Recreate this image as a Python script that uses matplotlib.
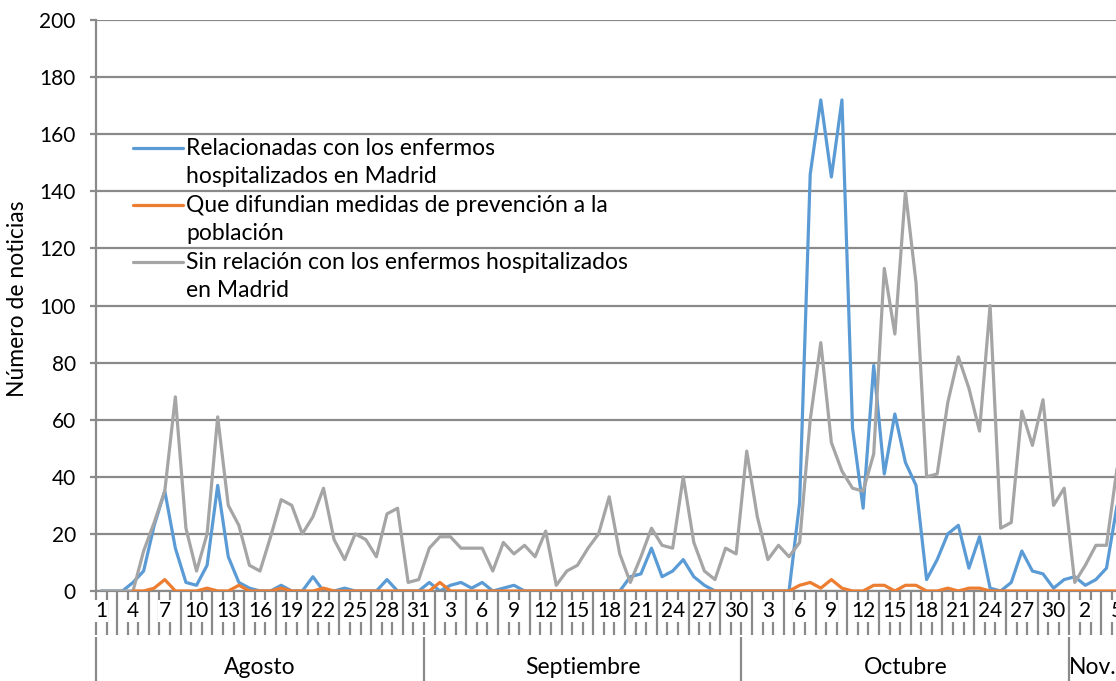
import matplotlib
matplotlib.use("Agg")
import matplotlib.pyplot as plt
from matplotlib.lines import Line2D
import numpy as np

plt.rcParams["font.family"] = ["Lato", "DejaVu Sans"]

# months shown on the category axis (Nov. is cut at the right edge)
MONTHS = ["Agosto", "Septiembre", "Octubre", "Nov."]
MONTH_DAYS = [31, 30, 31, 5]

# daily number of news items, 1 Aug -> 5 Nov
relacionadas = [
    0, 0, 0, 3, 7, 23, 35, 15, 3, 2,
    9, 37, 12, 3, 1, 0, 0, 2, 0, 0,
    5, 0, 0, 1, 0, 0, 0, 4, 0, 0,
    0, 3, 0, 2, 3, 1, 3, 0, 1, 2,
    0, 0, 0, 0, 0, 0, 0, 0, 0, 0,
    5, 6, 15, 5, 7, 11, 5, 2, 0, 0,
    0, 0, 0, 0, 0, 0, 31, 146, 172, 145,
    172, 57, 29, 79, 41, 62, 45, 37, 4, 11,
    20, 23, 8, 19, 1, 0, 3, 14, 7, 6,
    1, 4, 5, 2, 4, 8, 30,
]
prevencion = [
    None, None, None, 0, 0, 1, 4, 0, 0, 0,
    1, 0, 0, 2, 0, 0, 0, 1, 0, 0,
    0, 1, 0, 0, 0, 0, 0, 0, 0, 0,
    0, 0, 3, 0, 0, 0, 0, 0, 0, 0,
    0, 0, 0, 0, 0, 0, 0, 0, 0, 0,
    0, 0, 0, 0, 0, 0, 0, 0, 0, 0,
    0, 0, 0, 0, 0, 0, 2, 3, 1, 4,
    1, 0, 0, 2, 2, 0, 2, 2, 0, 0,
    1, 0, 1, 1, 0, 0, 0, 0, 0, 0,
    0, 0, 0, 0, 0, 0, 0,
]
sin_relacion = [
    0, 0, 0, 0, 14, 24, 35, 68, 22, 7,
    20, 61, 30, 23, 9, 7, 19, 32, 30, 20,
    26, 36, 18, 11, 20, 18, 12, 27, 29, 3,
    4, 15, 19, 19, 15, 15, 15, 7, 17, 13,
    16, 12, 21, 2, 7, 9, 15, 20, 33, 13,
    3, 12, 22, 16, 15, 40, 17, 7, 4, 15,
    13, 49, 26, 11, 16, 12, 17, 60, 87, 52,
    42, 36, 35, 48, 113, 90, 140, 108, 40, 41,
    66, 82, 71, 56, 100, 22, 24, 63, 51, 67,
    30, 36, 3, 9, 16, 16, 43,
]

labels = [
    ["Relacionadas con los enfermos", "hospitalizados en Madrid"],
    ["Que difundian medidas de prevención a la", "población"],
    ["Sin relación con los enfermos hospitalizados", "en Madrid"],
]
colors = ["#5B9BD5", "#ED7D31", "#A5A5A5"]
GRID = "#8a8a8a"
FS = 15      # numbers
FS_TXT = 16.5  # words

days = [d for n in MONTH_DAYS for d in range(1, n + 1)]
x = np.arange(len(days))

fig = plt.figure(figsize=(11.16, 6.81), dpi=100)
ax = fig.add_axes([96 / 1116, 90 / 681, 1020 / 1116, 571 / 681])

series = [relacionadas, prevencion, sin_relacion]
for vals, c, z in zip(series, colors, [2, 4, 3]):
    y = np.array([np.nan if v is None else v for v in vals], dtype=float)
    ax.plot(x, y, color=c, lw=2.3, solid_joinstyle="round",
            solid_capstyle="round", zorder=z)

ax.set_yticks(range(0, 201, 20))
ax.yaxis.grid(True, color=GRID, lw=1.6)
ax.set_axisbelow(True)
for s in ["top", "right"]:
    ax.spines[s].set_visible(False)
for s in ["left", "bottom"]:
    ax.spines[s].set_color(GRID)
    ax.spines[s].set_linewidth(1.6)
ax.tick_params(axis="y", length=4.5, width=1.6, color=GRID, pad=10,
               labelsize=FS)

# category axis: a tick between every day, label every third day
ax.set_xticks(np.arange(-0.5, len(days) + 0.5, 1))
ax.tick_params(axis="x", length=32, width=1.6, color=GRID,
               labelbottom=False)
ax.set_xlim(-0.5, 95.9)
ax.set_ylim(0, 200)

for i in range(0, len(days), 3):
    ax.annotate(str(days[i]), xy=(i, 0), xycoords=ax.get_xaxis_transform(),
                xytext=(0, -20), textcoords="offset pixels", ha="center",
                va="center", fontsize=FS, annotation_clip=False,
                bbox=dict(boxstyle="square,pad=0.05", fc="white", ec="none"))

# month level
bounds = np.concatenate([[0], np.cumsum(MONTH_DAYS)]) - 0.5
ax.vlines(bounds, -0.081, -0.2, transform=ax.get_xaxis_transform(),
          colors=GRID, lw=1.6, clip_on=False)
right = ax.get_xlim()[1]
for name, a, b in zip(MONTHS, bounds[:-1], bounds[1:]):
    ax.annotate(name, xy=((a + min(b, right)) / 2, 0),
                xycoords=ax.get_xaxis_transform(), xytext=(0, -76),
                textcoords="offset pixels", ha="center", va="center",
                fontsize=FS_TXT, annotation_clip=False)

fig.text(18 / 1116, 1 - 299 / 681, "Número de noticias", rotation=90,
         ha="center", va="center", fontsize=FS_TXT)

# legend (two-line entries, marker level with first line)
for k, (lines, c) in enumerate(zip(labels, colors)):
    yy = 0.7758 - k * 57 / 571
    ax.add_line(Line2D([0.0363, 0.0853], [yy, yy], transform=ax.transAxes,
                       color=c, lw=2.3, solid_capstyle="round"))
    for j, t in enumerate(lines):
        ax.text(0.0882, yy - j * 28.5 / 571, t, transform=ax.transAxes,
                ha="left", va="center", fontsize=FS_TXT)

plt.savefig("out.png", dpi=100)
